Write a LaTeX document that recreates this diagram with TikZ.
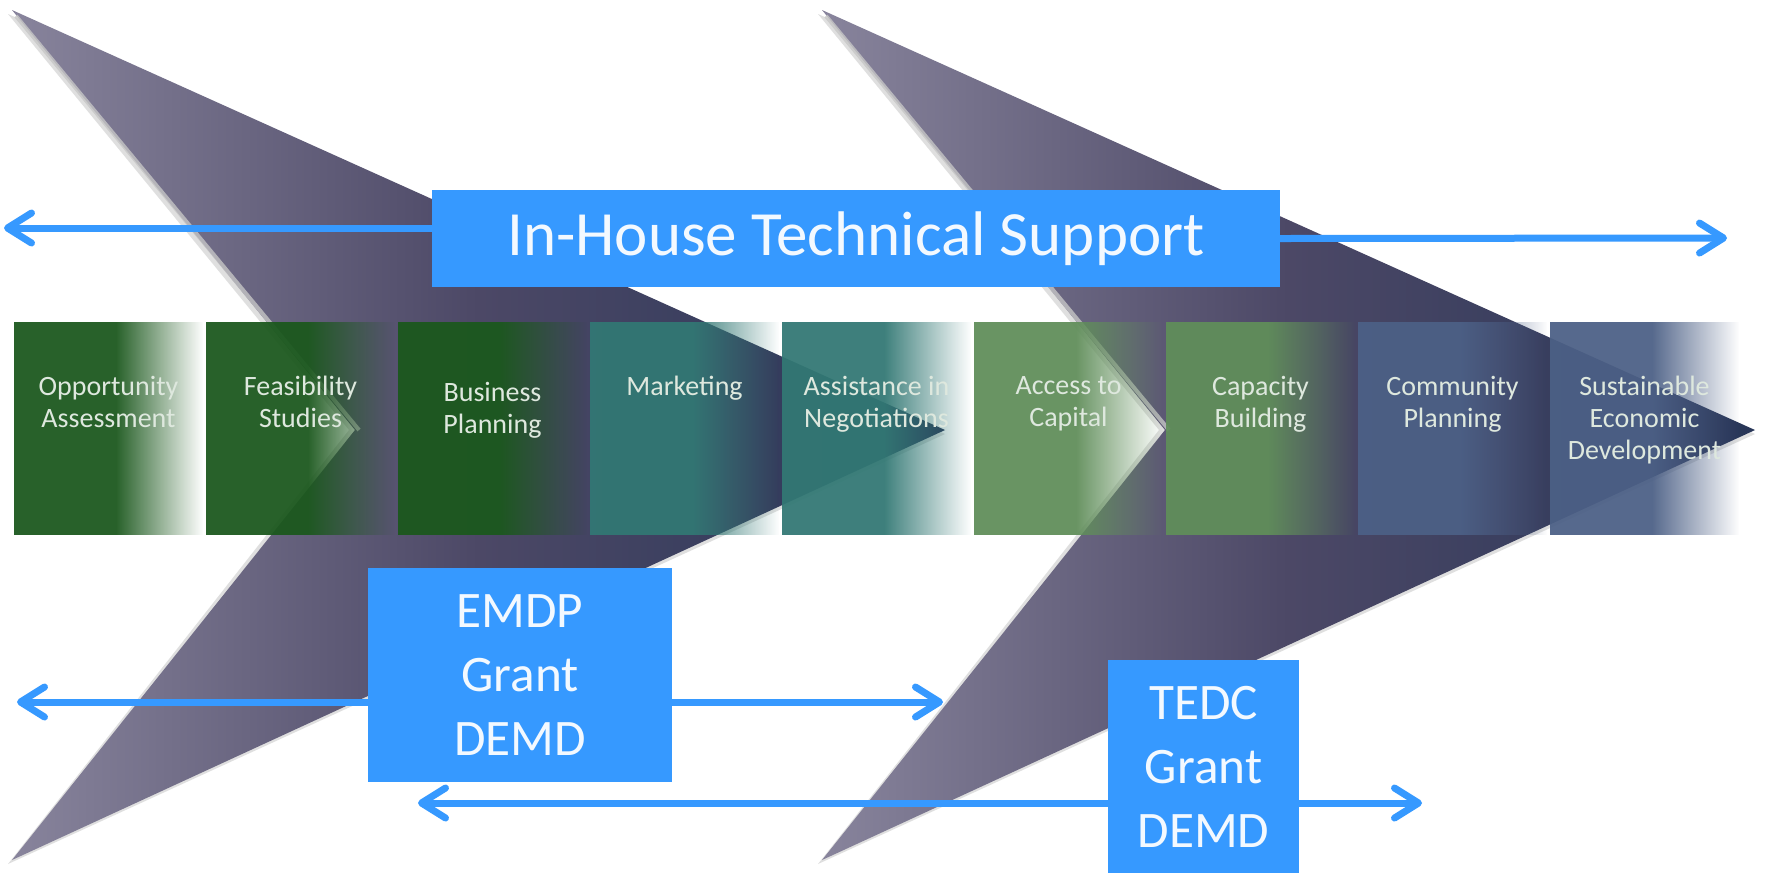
\documentclass[tikz,border=0pt]{standalone}
\usepackage{fontspec}
\setmainfont{Carlito}
\usetikzlibrary{positioning,calc,fadings,arrows.meta}

\definecolor{chevlight}{RGB}{136,132,156}
\definecolor{chevmid}{RGB}{76,72,102}
\definecolor{chevdark}{RGB}{40,54,88}
\definecolor{stepgreen}{RGB}{27,88,29}
\definecolor{stepteal}{RGB}{50,120,116}
\definecolor{steplime}{RGB}{96,142,90}
\definecolor{stepslate}{RGB}{76,96,134}
\definecolor{boxblue}{RGB}{54,153,255}
\definecolor{rowtextcol}{RGB}{222,232,222}

\pgfdeclarehorizontalshading{rowfadeshade}{100bp}{color(0bp)=(white!94!black); color(52bp)=(white!94!black); color(75bp)=(black); color(100bp)=(black)}

\begin{tikzfadingfrompicture}[name=rowfade]
  \useasboundingbox (0,0) rectangle (50bp,50bp);
  \shade[shading=rowfadeshade] (0,0) rectangle (50bp,50bp);
\end{tikzfadingfrompicture}

\begin{document}
\begin{tikzpicture}[x=0.5pt, y=-0.5pt,
  rowbox/.style={minimum width=94.5pt, minimum height=106.5pt, inner sep=0pt, outer sep=0pt,
                 path fading=rowfade, fit fading=true},
  rowtext/.style={text=rowtextcol, font=\fontsize{14}{16}\selectfont, align=center, inner sep=0pt},
  bigbox/.style={fill=boxblue, text=white!94!boxblue, inner sep=0pt, outer sep=0pt, align=center},
  link/.style={draw=boxblue, line width=3.5pt, -{Straight Barb[length=12pt,width=15pt,round]}},
  chev/.style={left color=chevlight, right color=chevdark, middle color=chevmid}
]

\useasboundingbox (0,0) rectangle (1775,875);
\fill[white] (0,0) rectangle (1775,875);

\def\shiftone{0}
\def\shifttwo{810}

% chevrons behind
\begin{scope}[shift={(\shiftone,0)}]
  \coordinate (A1) at (12,10);
  \coordinate (B1) at (945,430);
  \coordinate (C1) at (12,860);
  \coordinate (D1) at (355,430);
  \fill[gray, opacity=0.25] ($(A1)+(-4,4)$) -- ($(B1)+(0,4)$) -- ($(C1)+(-4,4)$) -- ($(D1)+(-6,0)$) -- cycle;
  \shade[chev] (A1) -- (B1) -- (C1) -- (D1) -- cycle;
  \draw[gray!45, line width=2pt, opacity=0.8] ($(A1)+(4,6)$) -- ($(D1)+(4,0)$);
\end{scope}

\begin{scope}[shift={(\shifttwo,0)}]
  \coordinate (A2) at (12,10);
  \coordinate (B2) at (945,430);
  \coordinate (C2) at (12,860);
  \coordinate (D2) at (355,430);
  \fill[gray, opacity=0.25] ($(A2)+(-4,4)$) -- ($(B2)+(0,4)$) -- ($(C2)+(-4,4)$) -- ($(D2)+(-6,0)$) -- cycle;
  \shade[chev] (A2) -- (B2) -- (C2) -- (D2) -- cycle;
  \draw[gray!45, line width=2pt, opacity=0.8] ($(A2)+(4,6)$) -- ($(D2)+(4,0)$);
\end{scope}

% row of steps
\node[rowbox, fill=stepgreen, anchor=north west] (opp) at (14,322) {};
\node[rowbox, fill=stepgreen, right=1.5pt of opp] (feas) {};
\node[rowbox, fill=stepgreen, right=1.5pt of feas] (bus) {};
\node[rowbox, fill=stepteal, right=1.5pt of bus] (mkt) {};
\node[rowbox, fill=stepteal, right=1.5pt of mkt] (assist) {};
\node[rowbox, fill=steplime, right=1.5pt of assist] (capital) {};
\node[rowbox, fill=steplime, right=1.5pt of capital] (capacity) {};
\node[rowbox, fill=stepslate, right=1.5pt of capacity] (comm) {};
\node[rowbox, fill=stepslate, right=1.5pt of comm] (sustain) {};

\node[rowtext, below=27pt of opp.north] (oppT) {Opportunity\\Assessment};
\node[rowtext, below=27pt of feas.north] (feasT) {Feasibility\\Studies};
\node[rowtext, below=30pt of bus.north] (busT) {Business\\Planning};
\node[rowtext, below=27pt of mkt.north] (mktT) {Marketing};
\node[rowtext, below=27pt of assist.north] (assistT) {Assistance in\\Negotiations};
\node[rowtext, below=27pt of capital.north] (capitalT) {Access to\\Capital};
\node[rowtext, below=27pt of capacity.north] (capacityT) {Capacity\\Building};
\node[rowtext, below=27pt of comm.north] (commT) {Community\\Planning};
\node[rowtext, below=27pt of sustain.north] (sustainT) {Sustainable\\Economic\\Development};

% funding boxes
\node[bigbox, minimum width=424pt, minimum height=48.5pt, font=\fontsize{31.5}{38}\selectfont]
  (inhouse) at (856,238.5) {In-House Technical Support};
\node[bigbox, minimum width=152pt, minimum height=107pt, font=\fontsize{25.6}{32}\selectfont]
  (emdp) at (520,675) {EMDP\\Grant\\DEMD};
\node[bigbox, minimum width=95.5pt, minimum height=106.5pt, font=\fontsize{25.6}{32}\selectfont]
  (tedc) at (1203.5,766.5) {TEDC\\Grant\\DEMD};

\coordinate (ihL) at (4,228);
\coordinate (ihR) at (1727,238);
\coordinate (emL) at (17,702);
\coordinate (emR) at (943,702);
\coordinate (tdL) at (418,803);
\coordinate (tdR) at (1422,803);

\draw[link] (inhouse.west |- ihL) -- (ihL);
\draw[link] (inhouse.east) -- (ihR);
\draw[link] (emdp.west |- emL) -- (emL);
\draw[link] (emdp.east |- emR) -- (emR);
\draw[link] (tedc.west |- tdL) -- (tdL);
\draw[link] (tedc.east |- tdR) -- (tdR);

\end{tikzpicture}
\end{document}
